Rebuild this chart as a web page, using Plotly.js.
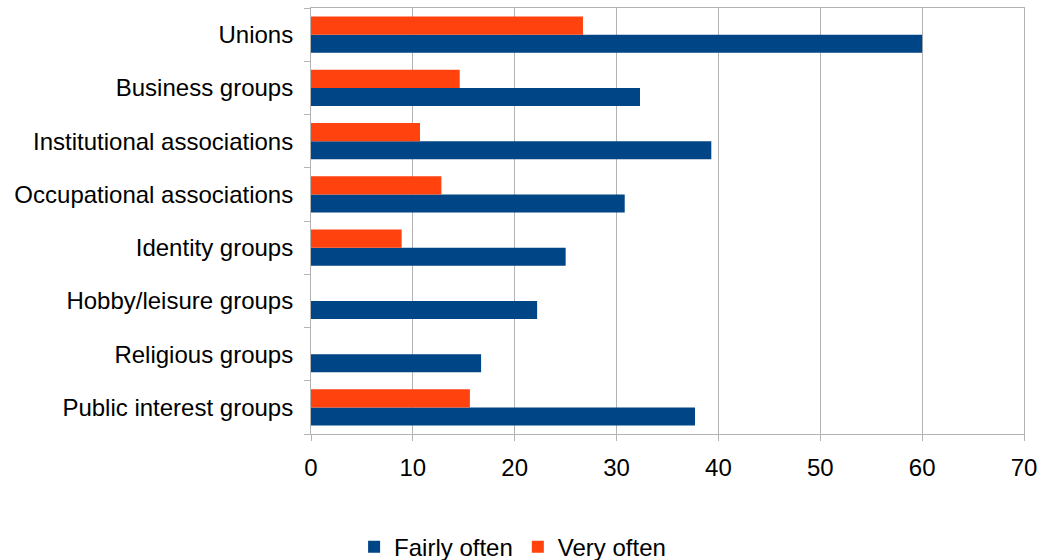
<!DOCTYPE html>
<html>
<head>
<meta charset="utf-8">
<script src="https://cdn.plot.ly/plotly-3.0.1.min.js"></script>
<style>html,body{margin:0;padding:0;background:#fff;}</style>
</head>
<body>
<div id="chart" style="width:1044px;height:560px;"></div>
<script>
const categories = ["Unions", "Business groups", "Institutional associations", "Occupational associations", "Identity groups", "Hobby/leisure groups", "Religious groups", "Public interest groups"];
const fairlyOften = [60.0, 32.3, 39.3, 30.8, 25.0, 22.2, 16.7, 37.7];
const veryOften = [26.7, 14.6, 10.7, 12.8, 8.9, null, null, 15.6];
const seriesNames = ["Fairly often", "Very often"];
const xTicks = [0, 10, 20, 30, 40, 50, 60, 70];

const traces = [
  {type: 'bar', orientation: 'h', name: seriesNames[0], y: categories, x: fairlyOften, marker: {color: '#004586'}},
  {type: 'bar', orientation: 'h', name: seriesNames[1], y: categories, x: veryOften, marker: {color: '#ff420e'}}
];

const layout = {
  width: 1044, height: 560,
  margin: {l: 311, r: 20, t: 8, b: 126},
  paper_bgcolor: '#fff', plot_bgcolor: '#fff',
  font: {family: 'Liberation Sans, Arial, sans-serif', size: 24, color: '#000'},
  barmode: 'group', bargap: 0.32, bargroupgap: 0,
  showlegend: true,
  legend: {orientation: 'h', xref: 'container', yref: 'container', x: 0.491, xanchor: 'center', y: 0.023, yanchor: 'middle', font: {size: 24}, traceorder: 'normal', itemwidth: 30},
  xaxis: {range: [0, 70], tickvals: xTicks, ticktext: xTicks.map(String), showgrid: true, gridcolor: '#b3b3b3', zeroline: false,
          showline: true, linecolor: '#b3b3b3', mirror: true, ticks: 'outside', ticklen: 6, tickcolor: '#b3b3b3', ticklabelstandoff: 6, fixedrange: true},
  yaxis: {type: 'category', categoryorder: 'array', categoryarray: categories.slice().reverse(), showgrid: false, zeroline: false,
          showline: true, linecolor: '#b3b3b3', mirror: true, ticks: 'outside', tickson: 'boundaries', ticklen: 6, tickcolor: '#b3b3b3', ticklabelstandoff: 12, fixedrange: true}
};

Plotly.newPlot('chart', traces, layout, {displayModeBar: false, staticPlot: true});
</script>
</body>
</html>
